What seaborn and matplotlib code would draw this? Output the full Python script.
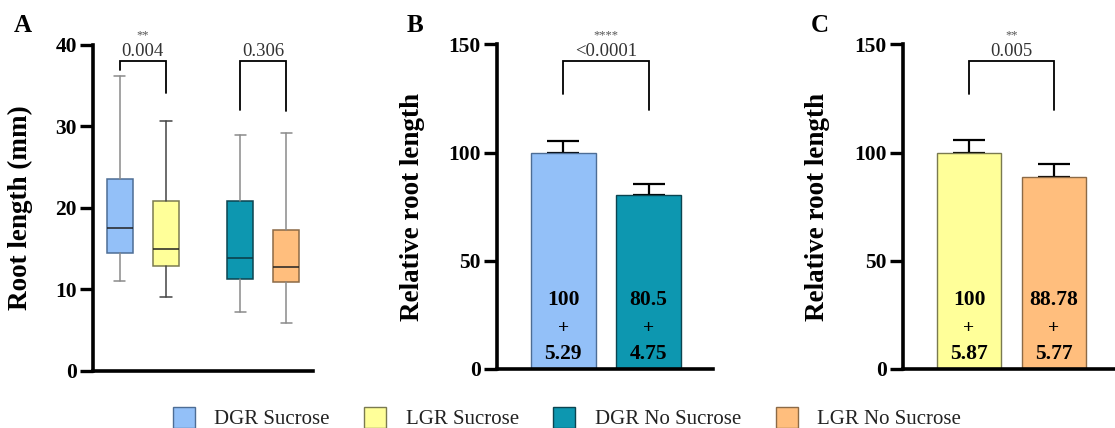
import pandas as pd
import seaborn as sns
import matplotlib.pyplot as plt
from matplotlib.patches import Patch

# Data
groups = ['DGR Sucrose', 'LGR Sucrose', 'DGR No Sucrose', 'LGR No Sucrose']
colors = ['#93C0F8', '#FFFF99', '#0D97B0', '#FFBE7D']
edges = ['#4D6D95', '#7A7A50', '#0B4450', '#8C6A46']

# Panel A: box plot summary (min, q1, median, q3, max), root length in mm
box_min = [11.0, 9.0, 7.2, 5.8]
box_q1 = [14.4, 12.8, 11.2, 10.9]
box_med = [17.5, 14.9, 13.8, 12.7]
box_q3 = [23.5, 20.8, 20.8, 17.3]
box_max = [36.2, 30.6, 28.9, 29.2]
a_pvals = ['0.004', '0.306']
a_stars = ['**', '']

# Panel B: relative root length
b_groups = ['DGR Sucrose', 'DGR No Sucrose']
b_means = [100, 80.5]
b_sem = [5.29, 4.75]
b_labels = ['100', '80.5']
b_err_labels = ['5.29', '4.75']

# Panel C: relative root length
c_groups = ['LGR Sucrose', 'LGR No Sucrose']
c_means = [100, 88.78]
c_sem = [5.87, 5.77]
c_labels = ['100', '88.78']
c_err_labels = ['5.87', '5.77']

sns.set_style('ticks')
plt.rcParams['font.family'] = ['Liberation Serif', 'DejaVu Serif']
plt.rcParams['text.color'] = 'black'
plt.rcParams['axes.labelcolor'] = 'black'
plt.rcParams['ytick.color'] = 'black'

fig = plt.figure(figsize=(11.15, 4.28), dpi=100)
ax_a = fig.add_axes([0.0834, 0.1339, 0.1973, 0.762])
ax_b = fig.add_axes([0.4455, 0.1379, 0.194, 0.7586])
ax_c = fig.add_axes([0.8096, 0.1379, 0.1904, 0.7586])


def style_axis(ax, label, ticks, ymax):
    for s in ['top', 'right']:
        ax.spines[s].set_visible(False)
    for s in ['left', 'bottom']:
        ax.spines[s].set_linewidth(2.6)
        ax.spines[s].set_color('black')
    ax.set_ylim(0, ymax)
    ax.set_yticks(ticks)
    ax.set_yticklabels([str(t) for t in ticks], fontsize=15.5, fontweight='bold')
    ax.tick_params(axis='y', length=9.5, width=2.4, pad=2, color='black', labelcolor='black')
    ax.tick_params(axis='x', length=0)
    ax.set_xticks([])
    ax.set_xlabel('')
    ax.set_ylabel(label, fontsize=19.5, fontweight='bold', color='black')


def bracket(ax, x1, x2, y, y1, y2, ptxt, star, ytxt, ystar):
    ax.plot([x1, x1, x2, x2], [y1, y, y, y2], color='black', lw=1.3,
            clip_on=False, solid_joinstyle='miter')
    ax.text((x1 + x2) / 2, ytxt, ptxt, ha='center', va='center', fontsize=13.5,
            color='#333333', clip_on=False)
    if star:
        ax.text((x1 + x2) / 2, ystar, star, ha='center', va='center',
                fontsize=9, color='#555555', clip_on=False)


# Panel A
positions = [0, 1, 2.6, 3.6]
stats = []
for i in range(len(groups)):
    stats.append({'whislo': box_min[i], 'q1': box_q1[i], 'med': box_med[i],
                  'q3': box_q3[i], 'whishi': box_max[i], 'label': groups[i]})
bp = ax_a.bxp(stats, positions=positions, widths=0.56, patch_artist=True,
              showfliers=False, capwidths=0.24)
for i, box in enumerate(bp['boxes']):
    box.set_facecolor(colors[i])
    box.set_edgecolor(edges[i])
    box.set_linewidth(1.1)
for i, med in enumerate(bp['medians']):
    med.set_color('#222222' if i != 2 else '#0B3A44')
    med.set_linewidth(1.1)
whisker_colors = ['#8A8A8A', '#444444', '#8A8A8A', '#8A8A8A']
for i in range(len(groups)):
    for w in bp['whiskers'][2 * i:2 * i + 2] + bp['caps'][2 * i:2 * i + 2]:
        w.set_color(whisker_colors[i])
        w.set_linewidth(1.1)
ax_a.set_xlim(-0.577, 4.175)
style_axis(ax_a, 'Root length (mm)', [0, 10, 20, 30, 40], 40)
ax_a.yaxis.set_label_coords(-0.273, 0.5)
bracket(ax_a, 0, 1, 38.0, 36.9, 34.1, a_pvals[0], a_stars[0], 39.1, 41.1)
bracket(ax_a, 2.6, 3.6, 38.0, 32.0, 31.8, a_pvals[1], a_stars[1], 39.1, 41.1)


def bar_panel(ax, names, means, sem, pal, edg, labels, err_labels, ptxt, star, xlim, lab_x):
    df = pd.DataFrame({'group': names, 'value': means})
    sns.barplot(data=df, x='group', y='value', hue='group', palette=pal,
                saturation=1, errorbar=None, width=0.76, legend=False, ax=ax, zorder=2)
    for p, e in zip(ax.patches, edg):
        p.set_edgecolor(e)
        p.set_linewidth(1.0)
    ax.errorbar(range(len(means)), means, yerr=[[0] * len(sem), sem], fmt='none',
                ecolor='black', elinewidth=1.6, capsize=11.5, capthick=1.6, zorder=1)
    for i in range(len(means)):
        ax.text(i, 31.9, labels[i], ha='center', va='center', fontsize=15.5, fontweight='bold')
        ax.text(i, 18.8, '+', ha='center', va='center', fontsize=14, fontweight='bold')
        ax.text(i, 6.8, err_labels[i], ha='center', va='center', fontsize=15.5, fontweight='bold')
    ax.set_xlim(*xlim)
    style_axis(ax, 'Relative root length', [0, 50, 100, 150], 150)
    ax.yaxis.set_label_coords(lab_x, 0.5)
    bracket(ax, 0, 1, 142.3, 127.2, 119.8, ptxt, star, 146.6, 154.3)


bar_panel(ax_b, b_groups, b_means, b_sem, [colors[0], colors[2]], [edges[0], edges[2]],
          b_labels, b_err_labels, '<0.0001', '****', (-0.78, 1.756), -0.331)
bar_panel(ax_c, c_groups, c_means, c_sem, [colors[1], colors[3]], [edges[1], edges[3]],
          c_labels, c_err_labels, '0.005', '**', (-0.782, 1.72), -0.342)

# panel letters
for x, letter in [(23, 'A'), (415, 'B'), (820, 'C')]:
    fig.text(x / 1115, 1 - 25 / 428, letter, ha='center', va='center',
             fontsize=18, fontweight='bold')

# legend
handles = [Patch(facecolor=c, edgecolor=e, linewidth=1.0) for c, e in zip(colors, edges)]
fig.legend(handles, groups, loc='center', bbox_to_anchor=(567 / 1115, 10 / 428),
           ncol=4, frameon=False, fontsize=15, handlelength=1.05, handleheight=1.2,
           handletextpad=0.95, columnspacing=1.65, borderpad=0, borderaxespad=0,
           labelcolor='#222222')

fig.savefig('out.png', dpi=100)
